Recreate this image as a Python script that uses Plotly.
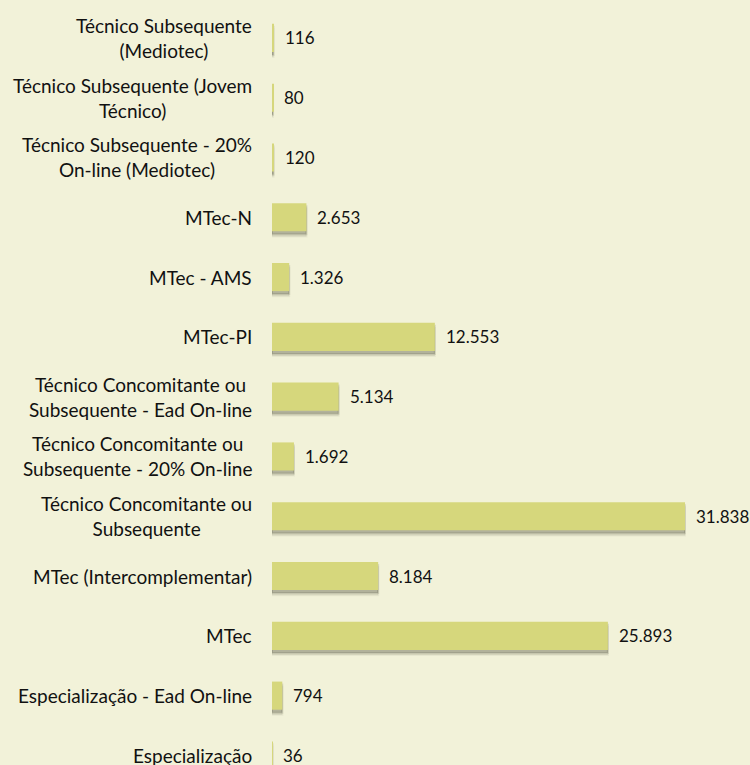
import plotly.graph_objects as go

# Categories (top to bottom) and values
categories = [
    "Técnico Subsequente<br>(Mediotec)",
    "Técnico Subsequente (Jovem<br>Técnico)",
    "Técnico Subsequente - 20%<br>On-line (Mediotec)",
    "MTec-N",
    "MTec - AMS",
    "MTec-PI",
    "Técnico Concomitante ou<br>Subsequente - Ead On-line",
    "Técnico Concomitante ou<br>Subsequente - 20% On-line",
    "Técnico Concomitante ou<br>Subsequente",
    "MTec (Intercomplementar)",
    "MTec",
    "Especialização - Ead On-line",
    "Especialização",
]
values = [116, 80, 120, 2653, 1326, 12553, 5134, 1692, 31838, 8184, 25893, 794, 36]

BG = "#F2F2D9"
BAR = "#D6D77C"
FONT = "Lato"
bar_w = 0.47

fig = go.Figure()

# Blurred drop shadow: two soft layers under each bar
for shift, alpha in [(0.085, 0.12), (0.05, 0.28)]:
    fig.add_trace(go.Bar(
        y=categories, x=values, orientation="h",
        width=bar_w, offset=-bar_w / 2 + shift,
        marker=dict(color=f"rgba(70,70,50,{alpha})",
                    line=dict(width=2, color=f"rgba(70,70,50,{alpha / 2})")),
        hoverinfo="skip", showlegend=False,
    ))
fig.add_trace(go.Bar(
    y=categories, x=values, orientation="h",
    width=bar_w, offset=-bar_w / 2,
    marker=dict(color=BAR, line=dict(width=0)),
    showlegend=False,
))

annotations = []
for cat, v in zip(categories, values):
    # category label, centred lines, right-aligned box
    annotations.append(dict(
        x=0, xref="paper", y=cat, yref="y", xanchor="right", yanchor="middle",
        xshift=-18, text=cat, showarrow=False, align="center",
        font=dict(family=FONT, size=19, color="#111111"),
    ))
    # value label
    annotations.append(dict(
        x=v, xref="x", y=cat, yref="y", xanchor="left", yanchor="middle",
        xshift=9, text=f"{v:,}".replace(",", "."), showarrow=False,
        font=dict(family=FONT, size=17, color="#111111"),
    ))

fig.update_layout(
    width=750, height=765,
    margin=dict(l=272, r=11, t=8, b=0),
    paper_bgcolor=BG, plot_bgcolor=BG,
    barmode="overlay",
    annotations=annotations,
    xaxis=dict(range=[0, 36000], visible=False),
    yaxis=dict(range=[12.16, -0.5], showticklabels=False, showgrid=False,
               zeroline=False, showline=False, ticks=""),
)

fig.write_html("out.html", config={"displayModeBar": False},
               post_script="document.body.style.margin='0';")
